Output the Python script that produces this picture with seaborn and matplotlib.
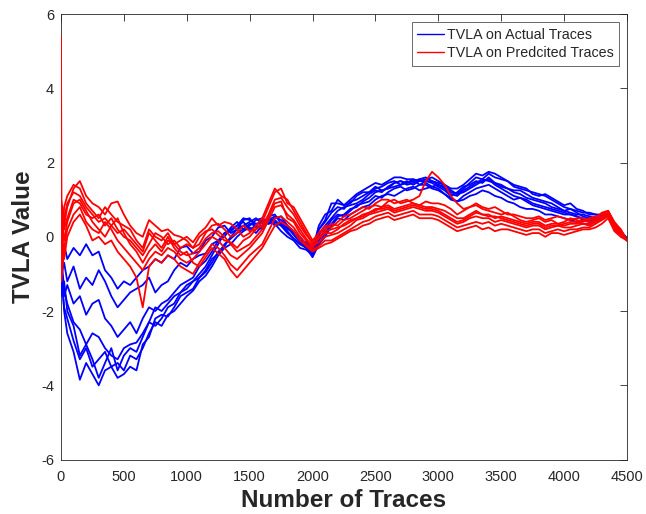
import numpy as np
import pandas as pd
import matplotlib
matplotlib.use('Agg')
import matplotlib.pyplot as plt
import seaborn as sns

traces = [0, 4, 25, 50] + list(range(100, 4501, 50))

# TVLA on actual traces (blue), one list per run
actual_1 = [0.6, -0.4, -0.2, -0.6, -0.3, -0.5, -0.2, -0.5, -0.4, -0.9, -1.1, -1.4, -1.2, -1.3, -1.1, -0.9,
            -0.8, -0.6, -0.7, -0.5, -0.6, -0.3, -0.25,
            -0.45, -0.4, -0.1, 0.0, 0.25, 0.3, 0.1, 0.2, 0.45, 0.5,
            0.25, 0.3, 0.55, 0.6, 0.35, 0.2, 0.15, -0.1, -0.15, -0.35,
            0.3, 0.6, 0.7, 1.0, 0.85, 0.9, 1.1, 1.2, 1.2, 1.35,
            1.25, 1.3, 1.45, 1.5, 1.4, 1.45, 1.55, 1.6, 1.5, 1.4,
            1.35, 1.2, 1.15, 1.3, 1.45, 1.6, 1.55, 1.7, 1.6, 1.55,
            1.5, 1.4, 1.35, 1.3, 1.15, 1.1, 1.15, 1.05, 0.95, 0.85,
            0.9, 0.75, 0.7, 0.6, 0.6, 0.55, 0.62, 0.3, 0.15, -0.05]
actual_2 = [-0.8, -1.0, -0.7, -1.2, -0.8, -1.4, -1.1, -1.3, -0.9, -1.2, -1.6, -1.9, -1.7, -1.5, -1.4, -1.3,
            -1.1, -1.5, -1.3, -1.2, -0.9, -0.7, -0.8,
            -0.6, -0.5, -0.45, -0.2, -0.1, 0.1, 0.15, 0.3, 0.4, 0.2,
            0.3, 0.45, 0.35, 0.5, 0.55, 0.3, 0.1, 0.0, -0.2, -0.3,
            0.2, 0.4, 0.65, 0.8, 0.75, 0.95, 1.0, 1.1, 1.2, 1.3,
            1.35, 1.45, 1.5, 1.4, 1.45, 1.55, 1.4, 1.5, 1.45, 1.35,
            1.25, 1.1, 1.2, 1.35, 1.4, 1.5, 1.45, 1.6, 1.45, 1.35,
            1.3, 1.25, 1.25, 1.15, 1.05, 1.0, 0.95, 0.9, 0.8, 0.7,
            0.75, 0.65, 0.55, 0.5, 0.45, 0.55, 0.62, 0.3, 0.15, -0.05]
actual_3 = [-0.3, -1.3, -1.6, -1.3, -1.8, -1.6, -2.1, -1.8, -1.7, -2.2, -2.4, -2.7, -2.5, -2.3, -2.6, -2.2,
            -1.9, -2.0, -1.8, -1.7, -1.5, -1.3, -1.2,
            -1.1, -0.8, -0.65, -0.4, -0.1, 0.0, 0.25, 0.4, 0.2, 0.3,
            0.45, 0.5, 0.35, 0.4, 0.3, 0.1, -0.05, -0.2, -0.3, -0.45,
            -0.1, 0.2, 0.45, 0.6, 0.55, 0.7, 0.85, 0.9, 0.95, 1.1,
            1.05, 1.2, 1.3, 1.35, 1.25, 1.3, 1.4, 1.4, 1.3, 1.25,
            1.15, 1.0, 0.95, 1.1, 1.2, 1.3, 1.35, 1.4, 1.3, 1.2,
            1.1, 1.0, 1.05, 0.95, 0.85, 0.8, 0.75, 0.7, 0.65, 0.6,
            0.6, 0.55, 0.5, 0.45, 0.45, 0.5, 0.62, 0.25, 0.1, -0.05]
actual_4 = [-1.0, -0.6, -1.4, -1.8, -2.3, -2.5, -2.9, -2.6, -2.7, -3.0, -3.2, -3.3, -3.0, -2.9, -2.85, -2.6,
            -2.3, -1.9, -2.0, -1.8, -1.6, -1.5, -1.4,
            -1.2, -1.1, -0.9, -0.6, -0.45, -0.2, -0.05, 0.1, 0.2, 0.35,
            0.3, 0.2, 0.4, 0.35, 0.15, 0.0, -0.1, -0.3, -0.35, -0.5,
            -0.2, 0.0, 0.3, 0.5, 0.45, 0.6, 0.7, 0.8, 0.85, 1.0,
            1.1, 1.15, 1.1, 1.2, 1.3, 1.35, 1.25, 1.3, 1.35, 1.3,
            1.15, 1.05, 0.95, 1.0, 1.1, 1.15, 1.25, 1.2, 1.1, 1.05,
            0.95, 0.9, 0.8, 0.75, 0.75, 0.7, 0.6, 0.6, 0.55, 0.5,
            0.45, 0.4, 0.35, 0.35, 0.4, 0.5, 0.62, 0.2, 0.1, -0.05]
actual_5 = [-0.5, -1.1, -1.9, -2.2, -2.8, -3.3, -3.0, -3.5, -3.3, -3.1, -3.5, -3.4, -3.6, -3.2, -3.3, -3.0,
            -2.6, -2.3, -2.4, -2.1, -2.0, -1.8, -1.6,
            -1.45, -1.2, -1.05, -0.8, -0.5, -0.3, -0.2, 0.0, 0.15, 0.25,
            0.1, 0.3, 0.5, 0.45, 0.3, 0.15, -0.05, -0.2, -0.25, -0.4,
            0.05, 0.3, 0.5, 0.7, 0.8, 0.85, 0.9, 1.0, 1.15, 1.25,
            1.2, 1.35, 1.45, 1.5, 1.45, 1.5, 1.55, 1.45, 1.35, 1.4,
            1.3, 1.15, 1.1, 1.25, 1.35, 1.45, 1.55, 1.5, 1.45, 1.4,
            1.3, 1.2, 1.15, 1.05, 1.0, 0.95, 0.9, 0.8, 0.75, 0.7,
            0.65, 0.6, 0.6, 0.55, 0.5, 0.5, 0.62, 0.3, 0.15, -0.05]
actual_6 = [-1.3, -0.9, -2.0, -2.6, -3.1, -3.85, -3.4, -3.7, -4.0, -3.6, -3.5, -3.8, -3.7, -3.5, -3.6, -2.9,
            -2.7, -2.2, -2.1, -2.15, -1.9, -1.6, -1.5,
            -1.4, -1.1, -0.95, -0.7, -0.4, -0.25, 0.0, 0.2, 0.3, 0.4,
            0.5, 0.35, 0.45, 0.55, 0.45, 0.3, 0.15, -0.1, -0.3, -0.55,
            -0.2, 0.1, 0.35, 0.55, 0.6, 0.75, 0.8, 0.95, 1.05, 1.2,
            1.25, 1.3, 1.35, 1.4, 1.5, 1.4, 1.5, 1.55, 1.6, 1.5,
            1.4, 1.25, 1.15, 1.2, 1.3, 1.4, 1.5, 1.55, 1.4, 1.3,
            1.2, 1.1, 1.05, 1.0, 0.9, 0.85, 0.8, 0.75, 0.7, 0.65,
            0.6, 0.55, 0.45, 0.4, 0.45, 0.55, 0.62, 0.25, 0.1, -0.05]
actual_7 = [-0.9, -1.6, -1.2, -2.0, -2.4, -3.2, -2.9, -3.3, -3.8, -3.4, -3.0, -3.6, -3.2, -3.0, -3.1, -2.7,
            -2.3, -2.4, -2.2, -1.9, -1.8, -1.5, -1.3,
            -1.2, -1.0, -0.8, -0.5, -0.2, 0.1, 0.2, 0.3, 0.5, 0.45,
            0.35, 0.4, 0.5, 0.3, 0.35, 0.25, 0.05, -0.15, -0.3, -0.5,
            0.2, 0.45, 0.9, 0.9, 0.85, 1.0, 1.15, 1.25, 1.35, 1.45,
            1.4, 1.5, 1.6, 1.6, 1.55, 1.55, 1.5, 1.5, 1.5, 1.45,
            1.4, 1.3, 1.3, 1.4, 1.55, 1.7, 1.65, 1.75, 1.7, 1.6,
            1.5, 1.35, 1.3, 1.25, 1.2, 1.15, 1.1, 1.0, 0.9, 0.8,
            0.75, 0.7, 0.65, 0.65, 0.6, 0.6, 0.62, 0.35, 0.15, -0.05]

# TVLA on predicted traces (red), one list per run
predicted_1 = [5.4, 1.0, 0.3, 0.8, 1.3, 1.5, 1.1, 0.9, 0.8, 0.6, 0.9, 0.95, 0.6, 0.3, 0.1, 0.0,
               0.45, 0.3, 0.15, 0.2, 0.05, 0.0, -0.1,
               -0.3, -0.2, 0.1, 0.3, 0.35, 0.2, 0.0, 0.1, 0.3, 0.15,
               0.2, 0.4, 0.8, 1.2, 1.3, 0.9, 0.8, 0.5, 0.2, -0.1,
               0.1, 0.2, 0.35, 0.3, 0.45, 0.5, 0.6, 0.7, 0.8, 0.85,
               0.8, 0.95, 1.0, 0.9, 0.95, 1.0, 1.1, 1.5, 1.75, 1.6,
               1.4, 1.1, 0.9, 0.75, 0.8, 0.85, 0.75, 0.7, 0.65, 0.6,
               0.65, 0.55, 0.45, 0.4, 0.45, 0.5, 0.4, 0.45, 0.35, 0.4,
               0.5, 0.45, 0.4, 0.5, 0.55, 0.6, 0.7, 0.35, 0.2, -0.1]
predicted_2 = [0.3, -0.5, 0.8, 1.1, 1.4, 1.3, 0.9, 0.7, 0.5, 0.8, 0.6, 0.4, 0.3, 0.2, -0.1, -0.3,
               0.2, 0.0, -0.1, 0.1, -0.2, -0.1, 0.0,
               -0.15, 0.1, 0.25, 0.5, 0.3, 0.4, 0.35, 0.2, 0.0, 0.1,
               0.3, 0.5, 0.9, 1.3, 1.1, 1.0, 0.7, 0.4, 0.1, -0.2,
               0.1, 0.3, 0.25, 0.4, 0.55, 0.6, 0.7, 0.8, 0.75, 0.9,
               1.0, 1.0, 0.9, 0.95, 1.0, 0.9, 0.85, 0.95, 0.9, 0.9,
               0.85, 0.75, 0.6, 0.7, 0.8, 0.9, 0.8, 0.75, 0.8, 0.7,
               0.6, 0.6, 0.55, 0.5, 0.5, 0.55, 0.45, 0.5, 0.55, 0.5,
               0.45, 0.5, 0.5, 0.45, 0.5, 0.65, 0.7, 0.4, 0.2, -0.1]
predicted_3 = [-0.5, 0.8, 0.2, 0.5, 1.0, 0.9, 0.6, 0.5, 0.6, 0.3, 0.5, 0.2, 0.0, -0.1, -0.3, -0.5,
               -0.2, 0.1, 0.0, -0.2, -0.1, -0.3, -0.2,
               -0.3, 0.0, 0.15, 0.2, 0.05, -0.1, -0.15, -0.3, -0.1, 0.0,
               0.2, 0.3, 0.6, 1.0, 1.05, 0.8, 0.6, 0.3, 0.05, -0.15,
               -0.05, 0.1, 0.1, 0.2, 0.35, 0.45, 0.5, 0.6, 0.65, 0.7,
               0.8, 0.85, 0.75, 0.8, 0.85, 0.9, 0.85, 0.8, 0.8, 0.75,
               0.7, 0.6, 0.5, 0.5, 0.6, 0.7, 0.6, 0.6, 0.5, 0.55,
               0.5, 0.45, 0.4, 0.35, 0.4, 0.4, 0.3, 0.35, 0.35, 0.3,
               0.35, 0.35, 0.45, 0.4, 0.45, 0.55, 0.65, 0.3, 0.15, -0.1]
predicted_4 = [0.0, -1.2, -0.3, 0.2, 0.6, 0.8, 0.4, 0.2, 0.1, 0.4, 0.2, -0.1, -0.3, -0.5, -0.7, -0.9,
               -0.6, -0.4, -0.5, -0.3, -0.4, -0.6, -0.7,
               -0.6, -0.4, -0.2, 0.0, -0.1, -0.3, -0.5, -0.6, -0.45, -0.3,
               -0.1, 0.1, 0.45, 0.8, 0.85, 0.6, 0.45, 0.2, -0.05, -0.25,
               -0.15, 0.0, 0.05, 0.1, 0.2, 0.3, 0.45, 0.5, 0.6, 0.65,
               0.7, 0.75, 0.65, 0.7, 0.75, 0.8, 0.75, 0.7, 0.7, 0.65,
               0.55, 0.45, 0.35, 0.4, 0.5, 0.55, 0.5, 0.5, 0.4, 0.45,
               0.4, 0.35, 0.3, 0.25, 0.3, 0.3, 0.2, 0.25, 0.3, 0.25,
               0.25, 0.3, 0.35, 0.3, 0.4, 0.5, 0.6, 0.25, 0.1, -0.1]
predicted_5 = [-1.0, 0.2, -0.6, 0.0, 0.4, 0.6, 0.3, -0.1, 0.0, -0.2, -0.1, -0.4, -0.6, -0.8, -1.1, -1.9,
               -0.8, -0.6, -0.7, -0.5, -0.6, -0.8, -0.9,
               -1.0, -0.7, -0.45, -0.2, -0.3, -0.5, -0.75, -0.9, -0.7, -0.5,
               -0.35, -0.2, 0.15, 0.5, 0.55, 0.4, 0.25, 0.0, -0.2, -0.35,
               -0.25, -0.1, -0.1, 0.0, 0.1, 0.2, 0.3, 0.4, 0.45, 0.55,
               0.6, 0.65, 0.55, 0.6, 0.65, 0.7, 0.6, 0.6, 0.6, 0.55,
               0.45, 0.35, 0.25, 0.3, 0.35, 0.4, 0.35, 0.4, 0.3, 0.35,
               0.3, 0.25, 0.2, 0.15, 0.2, 0.2, 0.1, 0.15, 0.2, 0.15,
               0.2, 0.2, 0.25, 0.25, 0.35, 0.45, 0.55, 0.2, 0.05, -0.1]
predicted_6 = [0.5, -0.8, 0.5, 0.9, 1.2, 1.1, 0.8, 0.6, 0.4, 0.5, 0.3, 0.1, 0.2, 0.0, -0.2, -0.4,
               0.1, -0.1, -0.3, 0.0, -0.3, -0.5, -0.4,
               -0.7, -0.8, -0.55, -0.3, -0.45, -0.6, -0.9, -1.1, -0.9, -0.7,
               -0.5, -0.3, 0.0, 0.3, 0.4, 0.3, 0.15, -0.1, -0.25, -0.4,
               -0.3, -0.2, -0.15, -0.05, 0.05, 0.15, 0.2, 0.3, 0.35, 0.45,
               0.5, 0.55, 0.45, 0.5, 0.55, 0.6, 0.5, 0.5, 0.5, 0.45,
               0.35, 0.25, 0.15, 0.2, 0.25, 0.3, 0.2, 0.25, 0.15, 0.2,
               0.2, 0.15, 0.1, 0.05, 0.1, 0.1, 0.0, 0.1, 0.1, 0.05,
               0.1, 0.15, 0.2, 0.2, 0.25, 0.35, 0.5, 0.15, 0.0, -0.1]
predicted_7 = [-0.2, 0.5, -0.1, 0.4, 0.9, 1.0, 0.7, 0.4, 0.2, 0.0, 0.3, 0.5, 0.1, -0.2, -0.4, -0.7,
               -0.4, -0.2, -0.4, -0.1, -0.2, -0.4, -0.5,
               -0.45, -0.3, -0.05, 0.1, 0.15, 0.0, -0.2, -0.4, -0.3, -0.2,
               0.0, 0.2, 0.55, 0.9, 0.95, 0.5, 0.4, 0.1, -0.1, -0.3,
               0.0, 0.15, 0.2, 0.25, 0.3, 0.4, 0.5, 0.55, 0.65, 0.75,
               0.75, 0.8, 0.7, 0.75, 0.8, 0.85, 0.8, 0.75, 0.75, 0.7,
               0.6, 0.5, 0.4, 0.45, 0.55, 0.65, 0.6, 0.55, 0.55, 0.5,
               0.45, 0.4, 0.35, 0.3, 0.35, 0.35, 0.25, 0.3, 0.3, 0.35,
               0.4, 0.4, 0.35, 0.35, 0.4, 0.5, 0.6, 0.3, 0.1, -0.1]

actual = [actual_1, actual_2, actual_3, actual_4, actual_5, actual_6, actual_7]
predicted = [predicted_1, predicted_2, predicted_3, predicted_4, predicted_5, predicted_6, predicted_7]
for s in actual + predicted:
    assert len(s) == len(traces), len(s)

# long format table for seaborn
rows = []
for kind, group in [('TVLA on Actual Traces', actual), ('TVLA on Predcited Traces', predicted)]:
    for i, series in enumerate(group):
        for t, v in zip(traces, series):
            rows.append({'traces': t, 'tvla': v, 'kind': kind, 'run': kind + str(i)})
df = pd.DataFrame(rows)

sns.set_style('white')
plt.rcParams['font.family'] = ['Liberation Sans', 'DejaVu Sans']
plt.rcParams['axes.unicode_minus'] = False

fig = plt.figure(figsize=(6.46, 5.14), dpi=100)
ax = fig.add_axes([0.0944, 0.106, 0.8762, 0.8667])

# lines above the spines so the red start spike at x=0 stays visible
sns.lineplot(data=df, x='traces', y='tvla', hue='kind', units='run', estimator=None,
             palette={'TVLA on Actual Traces': '#0000ff', 'TVLA on Predcited Traces': '#ff0000'},
             linewidth=1.3, sort=False, zorder=3, ax=ax)

ax.set_xlim(0, 4500)
ax.set_ylim(-6, 6)
ax.set_xticks(range(0, 4501, 500))
ax.set_yticks(range(-6, 7, 2))
ax.tick_params(direction='in', top=True, right=True, length=5, width=0.6,
               labelsize=10.5, colors='#262626')
ax.tick_params(axis='x', pad=7.5)
ax.tick_params(axis='y', pad=5)
for s in ax.spines.values():
    s.set_color('#262626')
    s.set_linewidth(0.6)

ax.set_xlabel('Number of Traces', fontsize=17.5, fontweight='bold', color='#262626', labelpad=4)
ax.set_ylabel('TVLA Value', fontsize=17.5, fontweight='bold', color='#262626', labelpad=4)

leg = ax.legend(loc='upper right', fontsize=10.3, frameon=True, fancybox=False,
                edgecolor='#262626', handlelength=1.85, handletextpad=0.2, borderpad=0.4,
                labelspacing=0.3, borderaxespad=0.55)
leg.get_frame().set_linewidth(0.6)
leg.set_zorder(5)
for line in leg.get_lines():
    line.set_linewidth(1.0)

fig.savefig('out.png', dpi=100)
